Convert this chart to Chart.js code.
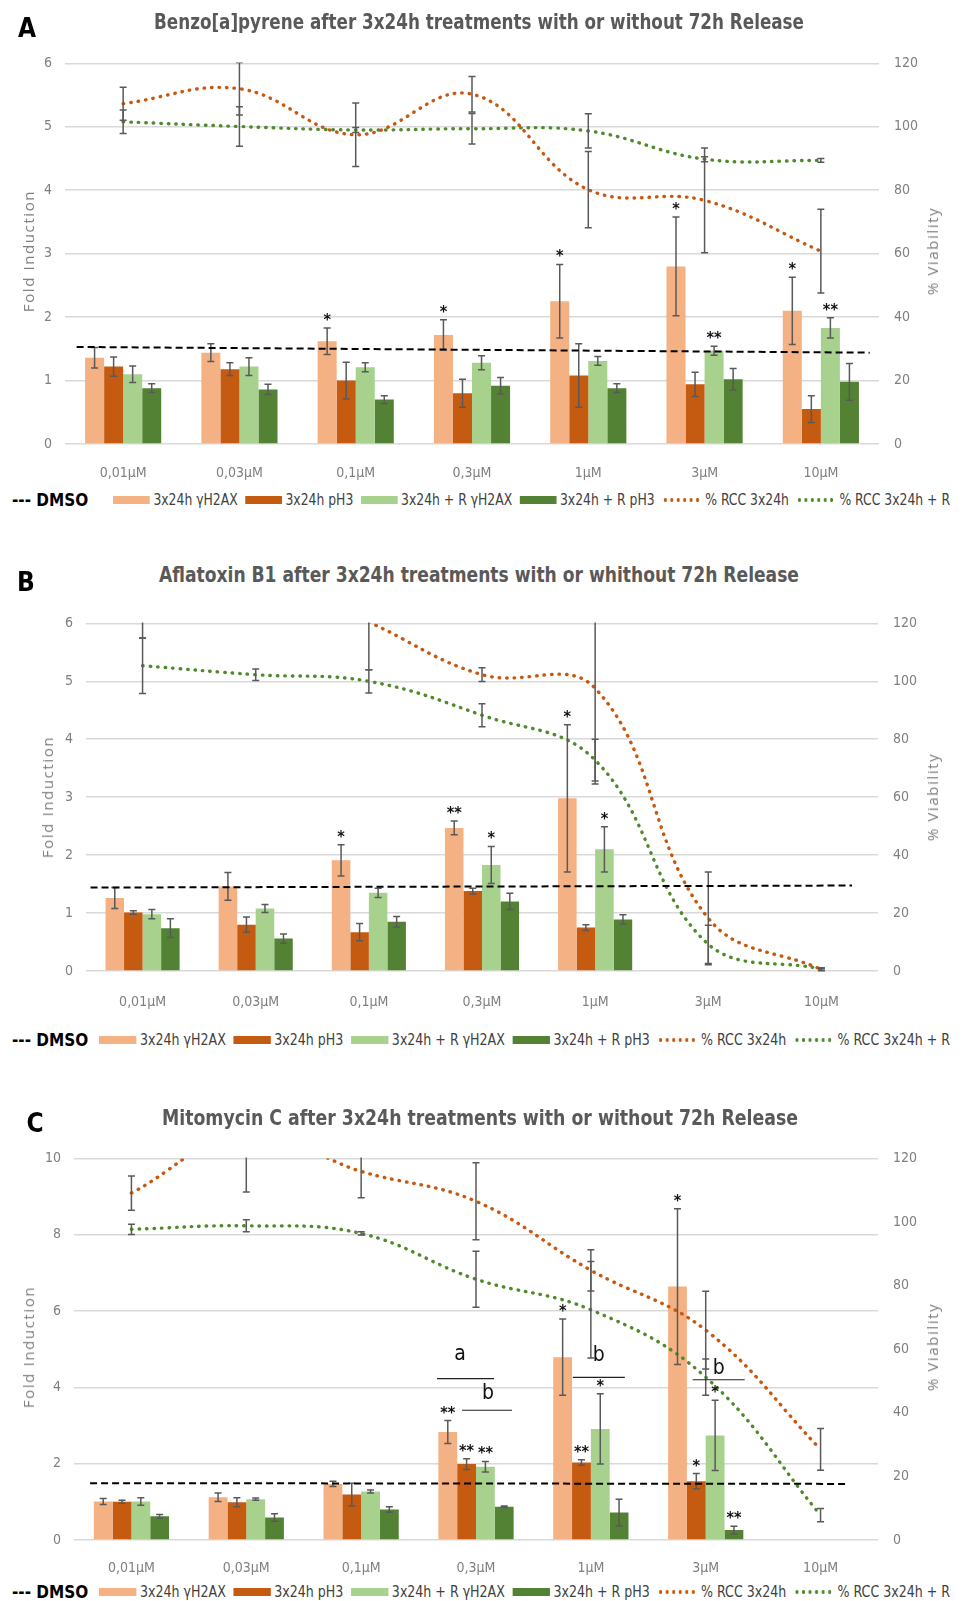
<!DOCTYPE html>
<html>
<head>
<meta charset="utf-8">
<script src="https://cdn.jsdelivr.net/npm/chart.js@4.4.1/dist/chart.umd.min.js"></script>
<style>
  html, body { margin: 0; padding: 0; background: #fff; }
  body { width: 968px; height: 1601px; position: relative; overflow: hidden;
         font-family: 'Liberation Sans Narrow', 'DejaVu Sans Condensed', 'Liberation Sans', sans-serif; }
  .abs { position: absolute; white-space: nowrap; }
  .letter { font-weight: bold; font-size: 26px; line-height: 30px; color: #000; transform: translateX(-50%); }
  .title { font-weight: bold; font-size: 21px; line-height: 24px; color: #595959; }
  .axt { font-family: 'Open Sans', 'Noto Sans', sans-serif; font-size: 15px; color: #7f7f7f;
         letter-spacing: 1.6px; transform: translate(-50%, -50%) rotate(-90deg); }
  .dmso { font-weight: bold; font-size: 17px; line-height: 20px; color: #000; transform: translateY(-50%); }
  .legrow { display: flex; align-items: center; gap: 8px; transform-origin: left center;
            font-size: 15px; line-height: 18px; color: #404040; }
  .item { display: flex; align-items: center; }
  .sw { display: inline-block; width: 40px; height: 8px; margin-right: 4px; }
  .dots { display: inline-block; width: 42px; height: 4px; margin-right: 5px; background-size: 7px 4px;
          background-repeat: repeat-x; }
</style>
</head>
<body>
<script>
// Categories and series names (shared by the three panels)
const concentrations = ['0,01µM', '0,03µM', '0,1µM', '0,3µM', '1µM', '3µM', '10µM'];
const seriesNames = ['3x24h γH2AX', '3x24h pH3', '3x24h + R γH2AX', '3x24h + R pH3', '% RCC 3x24h', '% RCC 3x24h + R'];

// Panel A - Benzo[a]pyrene
const bapH2AX = [1.36, 1.44, 1.62, 1.72, 2.25, 2.80, 2.10];
const bapH2AXErr = [0.16, 0.14, 0.21, 0.24, 0.58, 0.78, 0.53];
const bapPH3 = [1.22, 1.18, 1.00, 0.80, 1.08, 0.94, 0.55];
const bapPH3Err = [0.15, 0.10, 0.29, 0.22, 0.50, 0.19, 0.21];
const bapRH2AX = [1.10, 1.22, 1.21, 1.28, 1.31, 1.47, 1.83];
const bapRH2AXErr = [0.13, 0.14, 0.07, 0.11, 0.07, 0.07, 0.16];
const bapRPH3 = [0.88, 0.86, 0.70, 0.92, 0.88, 1.02, 0.98];
const bapRPH3Err = [0.07, 0.08, 0.06, 0.13, 0.07, 0.17, 0.29];
const bapRcc = [107.3, 112.0, 97.5, 110.3, 80.2, 76.8, 60.8];
const bapRccErr = [5.2, 8.3, 10.0, 5.6, 12.0, 16.5, 13.2];
const bapRccR = [101.6, 100.1, 99.0, 99.4, 98.7, 89.8, 89.4];
const bapRccRErr = [3.7, 6.2, 0.8, 4.8, 5.4, 0.8, 0.6];
const bapStarsH2AX = ['', '', '*', '*', '*', '*', '*'];
const bapStarsRH2AX = ['', '', '', '', '', '**', '**'];
const bapDmso = [1.53, 1.44];

// Panel B - Aflatoxin B1
const aflH2AX = [1.26, 1.46, 1.91, 2.47, 2.98, null, null];
const aflH2AXErr = [0.18, 0.24, 0.27, 0.12, 1.27, null, null];
const aflPH3 = [1.01, 0.80, 0.67, 1.38, 0.75, null, null];
const aflPH3Err = [0.03, 0.13, 0.15, 0.05, 0.05, null, null];
const aflRH2AX = [0.98, 1.08, 1.35, 1.83, 2.10, null, null];
const aflRH2AXErr = [0.08, 0.07, 0.08, 0.32, 0.39, null, null];
const aflRPH3 = [0.74, 0.56, 0.85, 1.20, 0.89, null, null];
const aflRPH3Err = [0.16, 0.08, 0.09, 0.14, 0.08, null, null];
const aflRcc = [132, 138, 120.5, 102.3, 97.6, 18.2, 0.5];
const aflRccErr = [17, 8, 16.5, 2.4, 33, 16, 0.4];
const aflRccR = [105.4, 102.3, 100.0, 88.3, 72.8, 9.2, 0.7];
const aflRccRErr = [9.6, 2.0, 4.0, 4.0, 7.2, 6.6, 0.4];
const aflStarsH2AX = ['', '', '*', '**', '*', '', ''];
const aflStarsRH2AX = ['', '', '', '*', '*', '', ''];
const aflDmso = [1.44, 1.475];

// Panel C - Mitomycin C
const mmcH2AX = [1.01, 1.12, 1.47, 2.83, 4.79, 6.64, null];
const mmcH2AXErr = [0.08, 0.11, 0.07, 0.30, 1.00, 2.04, null];
const mmcPH3 = [1.00, 0.99, 1.19, 1.99, 2.03, 1.54, null];
const mmcPH3Err = [0.04, 0.12, 0.30, 0.14, 0.07, 0.20, null];
const mmcRH2AX = [1.01, 1.07, 1.27, 1.92, 2.91, 2.74, null];
const mmcRH2AXErr = [0.10, 0.03, 0.04, 0.14, 0.92, 0.92, null];
const mmcRPH3 = [0.62, 0.59, 0.80, 0.87, 0.72, 0.26, null];
const mmcRPH3Err = [0.05, 0.10, 0.07, 0.02, 0.35, 0.10, null];
const mmcRcc = [109.1, 128, 115.9, 106.5, 84.8, 66.0, 28.5];
const mmcRccErr = [5.4, 18.6, 8.3, 12.1, 6.5, 12.2, 6.6];
const mmcRccR = [97.7, 98.8, 96.4, 82.0, 72.4, 51.2, 7.8];
const mmcRccRErr = [1.6, 1.9, 0.5, 8.8, 15.2, 5.7, 2.1];
const mmcStarsH2AX = ['', '', '', '**', '*', '*', ''];
const mmcStarsPH3 = ['', '', '', '**', '**', '*', ''];
const mmcStarsRH2AX = ['', '', '', '**', '*', '*', ''];
const mmcStarsRPH3 = ['', '', '', '', '', '**', ''];
const mmcDmso = [1.49, 1.47];

// Colors
const colors = ['#F4B183', '#C55A11', '#A9D18E', '#548235', '#C9580F', '#4F8A2B'];
const narrowFont = "'Liberation Sans Narrow', 'DejaVu Sans Condensed', 'Liberation Sans', sans-serif";

// Error bars, asterisks, DMSO line and significance notes
const overlayPlugin = {
    id: 'overlay',
    afterDatasetsDraw(chart, args, opts) {
        const ctx = chart.ctx;
        const area = chart.chartArea;
        const xs = chart.scales.x;
        const ys = chart.scales.y;

        // error bars, clipped to the plot area
        ctx.save();
        ctx.beginPath();
        ctx.rect(area.left, area.top - 1, area.right - area.left, area.bottom - area.top + 2);
        ctx.clip();
        ctx.strokeStyle = '#595959';
        ctx.lineWidth = 1.5;
        opts.errors.forEach((errs, i) => {
            const ds = chart.data.datasets[i];
            const scale = chart.scales[ds.yAxisID];
            const meta = chart.getDatasetMeta(i);
            errs.forEach((e, j) => {
                const v = ds.data[j];
                if (v == null || e == null) return;
                const x = meta.data[j].x;
                const y1 = scale.getPixelForValue(v + e);
                const y2 = scale.getPixelForValue(v - e);
                ctx.beginPath();
                ctx.moveTo(x, y1); ctx.lineTo(x, y2);
                ctx.moveTo(x - 3.5, y1); ctx.lineTo(x + 3.5, y1);
                ctx.moveTo(x - 3.5, y2); ctx.lineTo(x + 3.5, y2);
                ctx.stroke();
            });
        });
        ctx.restore();

        // asterisks above the error bars
        ctx.save();
        ctx.fillStyle = '#111';
        ctx.font = 'bold 16px ' + narrowFont;
        ctx.textAlign = 'center';
        ctx.textBaseline = 'alphabetic';
        Object.keys(opts.stars).forEach(i => {
            const ds = chart.data.datasets[i];
            const meta = chart.getDatasetMeta(i);
            opts.stars[i].forEach((s, j) => {
                if (!s) return;
                const top = ys.getPixelForValue(ds.data[j] + opts.errors[i][j]);
                ctx.fillText(s, meta.data[j].x, top - 3);
            });
        });
        ctx.restore();

        // DMSO reference line
        ctx.save();
        ctx.strokeStyle = '#000';
        ctx.lineWidth = 2;
        ctx.setLineDash([7, 4]);
        ctx.beginPath();
        ctx.moveTo(xs.getPixelForValue(opts.dmsoSpan[0]), ys.getPixelForValue(opts.dmso[0]));
        ctx.lineTo(xs.getPixelForValue(opts.dmsoSpan[1]), ys.getPixelForValue(opts.dmso[1]));
        ctx.stroke();
        ctx.restore();

        // letters with bars (panel C)
        ctx.save();
        ctx.strokeStyle = '#222';
        ctx.fillStyle = '#111';
        ctx.lineWidth = 1.2;
        ctx.font = '21px ' + narrowFont;
        ctx.textAlign = 'center';
        (opts.notes || []).forEach(n => {
            const cx = xs.getPixelForValue(n.cat);
            const ly = ys.getPixelForValue(n.line);
            ctx.beginPath();
            ctx.moveTo(cx + n.from, ly);
            ctx.lineTo(cx + n.to, ly);
            ctx.stroke();
            ctx.fillText(n.text, cx + n.dx, ys.getPixelForValue(n.at));
        });
        ctx.restore();
    }
};

function barSet(label, data, color) {
    return { type: 'bar', label: label, data: data, backgroundColor: color, yAxisID: 'y', order: 1,
             categoryPercentage: 0.655, barPercentage: 1.0, borderWidth: 0 };
}

function lineSet(label, data, color) {
    return { type: 'line', label: label, data: data, borderColor: color, yAxisID: 'y2', order: 0,
             borderWidth: 3.4, borderDash: [0.5, 7], borderCapStyle: 'round', pointRadius: 0,
             tension: 0.4, fill: false };
}

function addText(cls, text, css) {
    const el = document.createElement('div');
    el.className = 'abs ' + cls;
    el.textContent = text;
    el.style.cssText = css;
    document.body.appendChild(el);
    return el;
}

// stretch a centred title to the width it has in the figure
function fitTitle(el, cx, width) {
    const w = el.getBoundingClientRect().width;
    el.style.left = cx + 'px';
    el.style.transform = `translateX(-50%) scaleX(${width / w})`;
}

function addLegend(top, startX) {
    addText('dmso', '--- DMSO', `left:12px;top:${top}px`);
    const row = document.createElement('div');
    row.className = 'abs legrow';
    row.style.cssText = `left:${startX}px;top:${top - 9}px`;
    seriesNames.forEach((name, i) => {
        const item = document.createElement('span');
        item.className = 'item';
        const mark = document.createElement('span');
        if (i < 4) {
            mark.className = 'sw';
            mark.style.background = colors[i];
        } else {
            mark.className = 'dots';
            mark.style.backgroundImage = `radial-gradient(circle, ${colors[i]} 1.6px, transparent 2.1px)`;
        }
        item.appendChild(mark);
        item.appendChild(document.createTextNode(name));
        row.appendChild(item);
    });
    document.body.appendChild(row);
    // squeeze the row so it ends where the figure's legend ends
    const w = row.getBoundingClientRect().width;
    row.style.transform = `scaleX(${(950 - startX) / w})`;
}

function makePanel(p) {
    const canvas = document.createElement('canvas');
    canvas.width = 968;
    canvas.height = p.height;
    canvas.style.cssText = `position:absolute;left:0;top:${p.top}px;width:968px;height:${p.height}px`;
    document.body.appendChild(canvas);

    const tickFont = { family: narrowFont, size: 14 };
    new Chart(canvas.getContext('2d'), {
        data: {
            labels: concentrations,
            datasets: [
                barSet(seriesNames[0], p.bars[0], colors[0]),
                barSet(seriesNames[1], p.bars[1], colors[1]),
                barSet(seriesNames[2], p.bars[2], colors[2]),
                barSet(seriesNames[3], p.bars[3], colors[3]),
                lineSet(seriesNames[4], p.rcc, colors[4]),
                lineSet(seriesNames[5], p.rccR, colors[5])
            ]
        },
        options: {
            responsive: false,
            animation: false,
            layout: { autoPadding: false, padding: { top: p.padTop, left: 0, right: 0, bottom: 0 } },
            plugins: {
                legend: { display: false },
                tooltip: { enabled: false },
                overlay: { errors: p.errors, stars: p.stars, dmso: p.dmso, dmsoSpan: p.dmsoSpan, notes: p.notes }
            },
            scales: {
                x: {
                    grid: { display: false },
                    border: { display: false },
                    ticks: { color: '#7f7f7f', font: tickFont, padding: p.xPad, maxRotation: 0 },
                    afterFit: s => { s.height = p.xHeight; }
                },
                y: {
                    position: 'left',
                    min: 0, max: p.foldMax,
                    ticks: { stepSize: p.foldStep, color: '#7f7f7f', font: tickFont, padding: 13 },
                    grid: { color: '#d9d9d9', lineWidth: 1.6, drawTicks: false },
                    border: { display: false },
                    afterFit: s => { s.width = p.left; }
                },
                y2: {
                    position: 'right',
                    min: 0, max: 120,
                    ticks: { stepSize: 20, color: '#7f7f7f', font: tickFont, padding: 15 },
                    grid: { display: false, drawTicks: false },
                    border: { display: false },
                    afterFit: s => { s.width = 968 - p.right; }
                }
            }
        },
        plugins: [overlayPlugin]
    });

    addText('letter', p.letter, `left:${p.letterX}px;top:${p.letterY}px`);
    const t = addText('title', p.title, `left:0;top:${p.titleY}px`);
    fitTitle(t, p.titleX, p.titleW);
    addText('axt', 'Fold Induction', `left:${p.axLeftX}px;top:${p.axMidY}px`);
    addText('axt', '% Viability', `left:932px;top:${p.axMidY}px`);
    addLegend(p.legendY, p.legendX);
}

// Panel A
makePanel({
    top: 40, height: 440, padTop: 18, xHeight: 36, xPad: 13, left: 65, right: 879,
    foldMax: 6, foldStep: 1,
    bars: [bapH2AX, bapPH3, bapRH2AX, bapRPH3], rcc: bapRcc, rccR: bapRccR,
    errors: [bapH2AXErr, bapPH3Err, bapRH2AXErr, bapRPH3Err, bapRccErr, bapRccRErr],
    stars: { 0: bapStarsH2AX, 2: bapStarsRH2AX },
    dmso: bapDmso, dmsoSpan: [-0.4, 6.42],
    letter: 'A', letterX: 27, letterY: 13,
    title: 'Benzo[a]pyrene after 3x24h treatments with or without 72h Release', titleX: 479, titleW: 650, titleY: 10,
    axLeftX: 28, axMidY: 251, legendY: 500, legendX: 113
});

// Panel B
makePanel({
    top: 600, height: 410, padTop: 23, xHeight: 39, xPad: 15, left: 86, right: 878,
    foldMax: 6, foldStep: 1,
    bars: [aflH2AX, aflPH3, aflRH2AX, aflRPH3], rcc: aflRcc, rccR: aflRccR,
    errors: [aflH2AXErr, aflPH3Err, aflRH2AXErr, aflRPH3Err, aflRccErr, aflRccRErr],
    stars: { 0: aflStarsH2AX, 2: aflStarsRH2AX },
    dmso: aflDmso, dmsoSpan: [-0.46, 6.27],
    letter: 'B', letterX: 26, letterY: 567,
    title: 'Aflatoxin B1 after 3x24h treatments with or whithout 72h Release', titleX: 479, titleW: 640, titleY: 563,
    axLeftX: 47, axMidY: 797, legendY: 1040, legendX: 99
});

// Panel C
makePanel({
    top: 1135, height: 440, padTop: 20, xHeight: 35, xPad: 12, left: 74, right: 878,
    foldMax: 10, foldStep: 2,
    bars: [mmcH2AX, mmcPH3, mmcRH2AX, mmcRPH3], rcc: mmcRcc, rccR: mmcRccR,
    errors: [mmcH2AXErr, mmcPH3Err, mmcRH2AXErr, mmcRPH3Err, mmcRccErr, mmcRccRErr],
    stars: { 0: mmcStarsH2AX, 1: mmcStarsPH3, 2: mmcStarsRH2AX, 3: mmcStarsRPH3 },
    dmso: mmcDmso, dmsoSpan: [-0.36, 6.22],
    notes: [
        { cat: 3, from: -39, to: 18, line: 4.23, text: 'a', dx: -16, at: 4.73 },
        { cat: 3, from: -14, to: 36, line: 3.40, text: 'b', dx: 12, at: 3.69 },
        { cat: 4, from: -18, to: 34, line: 4.26, text: 'b', dx: 8, at: 4.68 },
        { cat: 5, from: -13, to: 39, line: 4.20, text: 'b', dx: 13, at: 4.34 }
    ],
    letter: 'C', letterX: 35, letterY: 1108,
    title: 'Mitomycin C after 3x24h treatments with or without 72h Release', titleX: 480, titleW: 636, titleY: 1106,
    axLeftX: 28, axMidY: 1347, legendY: 1592, legendX: 99
});
</script>
</body>
</html>
